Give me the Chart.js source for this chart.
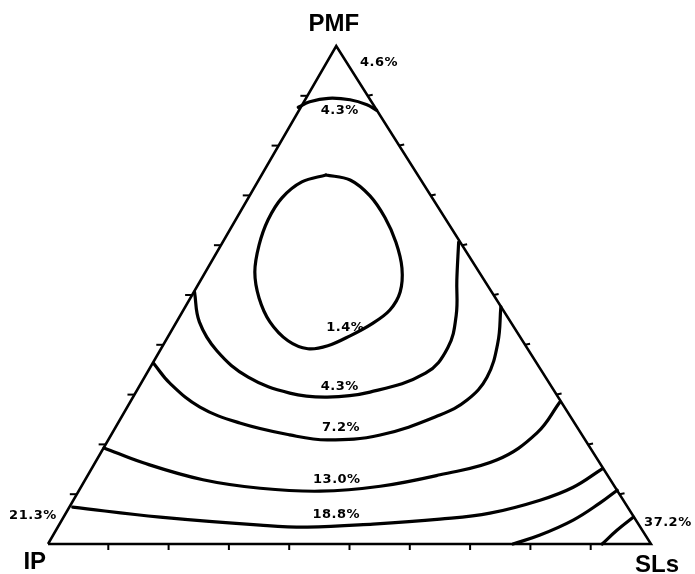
<!DOCTYPE html>
<html>
<head>
<meta charset="utf-8">
<script src="https://cdn.jsdelivr.net/npm/chart.js@4/dist/chart.umd.min.js"></script>
<style>
  html, body { margin: 0; padding: 0; background: #fff; }
  #wrap { width: 695px; height: 574px; }
</style>
</head>
<body>
<div id="wrap"><canvas id="c" width="695" height="574"></canvas></div>
<script>
// Plot coordinates: x runs 0 (IP) -> 100 (SLs) along the base, y runs 0 (base) -> 100 (PMF apex)
const APEX_X = 47.8;
const triangle = [[0, 0], [100, 0], [APEX_X, 100], [0, 0]];
const tickFractions = [0.1, 0.2, 0.3, 0.4, 0.5, 0.6, 0.7, 0.8, 0.9];

// Contour lines
const contour_4_3_top = [[41.5, 87.7], [43.4, 88.8], [46.5, 89.5], [50.1, 89.2], [52.9, 88.2], [54.5, 87.1]];
const contour_1_4 = [[46.1, 74.1], [50.1, 73.1], [53.4, 69.9], [55.9, 65.5], [57.7, 60.6], [58.7, 55.4],
  [58.4, 50.6], [56.7, 47.0], [53.7, 44.2], [50.1, 41.8], [46.4, 39.8], [43.1, 39.2], [39.8, 40.8],
  [36.8, 44.6], [35.0, 49.4], [34.3, 54.6], [35.0, 60.0], [36.5, 65.1], [38.8, 69.5], [42.1, 72.7],
  [46.1, 74.1]];
const contour_4_3 = [[24.3, 50.6], [25.1, 44.6], [28.0, 38.8], [33.2, 33.5], [40.1, 30.3], [46.3, 29.5],
  [53.4, 30.5], [62.6, 34.3], [66.3, 39.4], [67.7, 46.0], [67.8, 53.0], [68.1, 60.6]];
const contour_7_2 = [[17.5, 36.3], [20.2, 32.3], [25.2, 27.5], [31.8, 24.3], [40.1, 21.9], [46.3, 20.9],
  [55.1, 21.9], [65.0, 25.9], [69.5, 28.9], [72.8, 33.5], [74.6, 40.4], [75.1, 47.6]];
const contour_13_0 = [[9.3, 19.3], [15.8, 16.3], [25.7, 12.9], [35.2, 11.2], [45.1, 10.6], [55.1, 11.6],
  [65.0, 13.9], [74.5, 16.9], [81.1, 22.3], [84.9, 28.5]];
const contour_18_8 = [[4.1, 7.4], [18.6, 5.4], [35.2, 3.8], [43.0, 3.4], [53.9, 4.0], [65.0, 5.0],
  [73.3, 6.2], [81.6, 8.8], [87.1, 11.4], [91.9, 15.1]];
const contour_5 = [[77.1, 0], [81.6, 1.8], [87.1, 4.8], [91.5, 8.2], [94.4, 10.8]];
const contour_6 = [[91.9, 0], [94.4, 2.8], [97.1, 5.4]];

// Text labels
const vertexNames = ['PMF', 'IP', 'SLs'];
const vertexLabelX = [47.4, -2.2, 101.0];
const vertexLabelY = [104.4, -3.6, -4.2];
const valueLabels = ['4.6%', '4.3%', '1.4%', '4.3%', '7.2%', '13.0%', '18.8%', '21.3%', '37.2%'];
const valueLabelX = [54.9, 48.4, 49.3, 48.4, 48.6, 47.9, 47.8, -2.5, 102.8];
const valueLabelY = [96.6, 87.1, 43.4, 31.7, 23.3, 12.9, 5.8, 5.6, 4.2];

const toPts = arr => arr.map(p => ({ x: p[0], y: p[1] }));

function contourDs(arr, tension) {
  return {
    data: toPts(arr), showLine: true, borderColor: '#000', borderWidth: 3.2,
    pointRadius: 0, tension: tension === undefined ? 0.4 : tension, fill: false, clip: false,
    borderCapStyle: 'round', borderJoinStyle: 'round'
  };
}

const overlay = {
  id: 'overlay',
  afterDatasetsDraw(chart) {
    const ctx = chart.ctx;
    const xs = chart.scales.x, ys = chart.scales.y;
    const px = v => xs.getPixelForValue(v), py = v => ys.getPixelForValue(v);
    ctx.save();
    ctx.strokeStyle = '#000';
    ctx.lineWidth = 2;
    ctx.lineCap = 'butt';
    tickFractions.forEach(f => {
      // base ticks (pointing down)
      let bx = px(100 * f), by = py(0);
      ctx.beginPath(); ctx.moveTo(bx, by); ctx.lineTo(bx, by + 6); ctx.stroke();
      // left edge ticks (pointing left)
      let lx = px(APEX_X * f), ly = py(100 * f);
      ctx.beginPath(); ctx.moveTo(lx, ly); ctx.lineTo(lx - 7, ly); ctx.stroke();
      // right edge ticks (pointing right)
      let rx = px(100 - (100 - APEX_X) * f), ry = py(100 * f);
      ctx.beginPath(); ctx.moveTo(rx, ry); ctx.lineTo(rx + 5, ry - 1); ctx.stroke();
    });
    ctx.fillStyle = '#000';
    ctx.textAlign = 'center';
    ctx.textBaseline = 'middle';
    ctx.font = 'bold 24px "Liberation Sans", Arial, sans-serif';
    vertexNames.forEach((t, i) => ctx.fillText(t, px(vertexLabelX[i]), py(vertexLabelY[i])));
    ctx.font = 'bold 13px "DejaVu Sans", sans-serif';
    if ('letterSpacing' in ctx) ctx.letterSpacing = '0.5px';
    valueLabels.forEach((t, i) => ctx.fillText(t, px(valueLabelX[i]), py(valueLabelY[i])));
    ctx.restore();
  }
};

new Chart(document.getElementById('c'), {
  type: 'scatter',
  data: {
    datasets: [
      { data: toPts(triangle), showLine: true, borderColor: '#000', borderWidth: 2.5, pointRadius: 0,
        tension: 0, fill: false, clip: false, borderJoinStyle: 'miter' },
      contourDs(contour_4_3_top),
      contourDs(contour_1_4, 0.35),
      contourDs(contour_4_3),
      contourDs(contour_7_2),
      contourDs(contour_13_0),
      contourDs(contour_18_8),
      contourDs(contour_5),
      contourDs(contour_6)
    ]
  },
  options: {
    responsive: false,
    animation: false,
    layout: { padding: { left: 48, right: 44, top: 46, bottom: 30 } },
    scales: {
      x: { type: 'linear', min: 0, max: 100, display: false },
      y: { type: 'linear', min: 0, max: 100, display: false }
    },
    plugins: { legend: { display: false }, tooltip: { enabled: false } }
  },
  plugins: [overlay]
});
</script>
</body>
</html>
